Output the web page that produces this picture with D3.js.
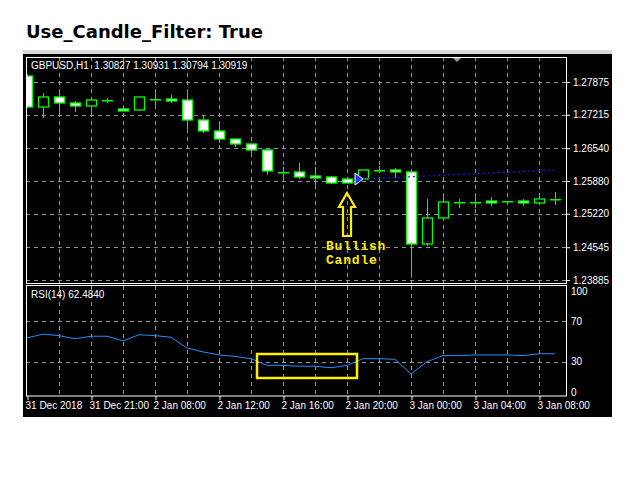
<!DOCTYPE html>
<html>
<head>
<meta charset="utf-8">
<style>
  body { margin: 0; background: #fff; }
  svg text { font-family: "Liberation Sans", Arial, sans-serif; white-space: pre; }
</style>
<script src="https://d3js.org/d3.v7.min.js"></script>
</head>
<body>
<svg id="chart" width="640" height="480"></svg>
<script>
// candle data, oldest first
const opens  = [1.27996,1.27371,1.27573,1.27452,1.27391,1.27512,1.27331,1.27311,1.27532,1.27532,1.27512,1.27109,1.26888,1.26726,1.26626,1.26505,1.26062,1.26062,1.25981,1.25961,1.25920,1.25920,1.26102,1.26102,1.26062,1.24611,1.25135,1.25457,1.25457,1.25477,1.25477,1.25477,1.25437,1.25518];
const highs  = [1.28036,1.27653,1.27653,1.27492,1.27573,1.27553,1.27331,1.27573,1.27733,1.27613,1.27653,1.27190,1.27029,1.26726,1.26626,1.26545,1.26162,1.26243,1.26162,1.25981,1.25920,1.26102,1.26182,1.26142,1.26062,1.25518,1.25598,1.25518,1.25598,1.25558,1.25477,1.25518,1.25558,1.25659];
const lows   = [1.27351,1.27150,1.27250,1.27271,1.27250,1.27452,1.27291,1.27311,1.27371,1.27452,1.26908,1.26847,1.26646,1.26565,1.26384,1.26001,1.25920,1.25920,1.25759,1.25820,1.25840,1.25920,1.26041,1.25941,1.23926,1.24570,1.25135,1.25336,1.25336,1.25377,1.25397,1.25377,1.25397,1.25397];
const closes = [1.27371,1.27573,1.27452,1.27391,1.27512,1.27512,1.27291,1.27573,1.27532,1.27492,1.27109,1.26888,1.26726,1.26626,1.26505,1.26082,1.26062,1.25961,1.25941,1.25840,1.25840,1.26102,1.26102,1.26062,1.24611,1.25135,1.25457,1.25457,1.25457,1.25437,1.25477,1.25437,1.25518,1.25518];
const rsi = [53.6,57.3,55.8,52.7,55.2,55.2,50.6,56.7,55.8,54.2,43.6,39.7,36.7,35.2,33.0,26.4,26.4,25.5,25.5,24.0,26.4,33.0,33.0,32.4,17.9,30.0,36.0,36.0,36.7,36.7,36.7,36.0,37.9,37.9];
const priceTicks = [1.27875,1.27215,1.26540,1.25880,1.25220,1.24545,1.23885];
const rsiTicks = [100,70,30,0];
const timeTickIdx = [0,4,8,12,16,20,24,28,32];
const timeLabels = ["31 Dec 2018","31 Dec 21:00","2 Jan 08:00","2 Jan 12:00","2 Jan 16:00","2 Jan 20:00","3 Jan 00:00","3 Jan 04:00","3 Jan 08:00"];
const levelTrail = [[21,1.25920],[33,1.26102]]; // blue dotted projection line
const GREEN = "#00ff00", GRID = "#8a95a0";

const svg = d3.select("#chart");
svg.append("text").attr("x", 26).attr("y", 38)
  .style("font-family", "'DejaVu Sans', sans-serif")
  .attr("font-size", 18).attr("font-weight", "bold").text("Use_Candle_Filter: True");

svg.append("rect").attr("x", 23).attr("y", 50).attr("width", 589).attr("height", 5).attr("fill", "#d8d8d8");
svg.append("rect").attr("x", 23).attr("y", 54).attr("width", 589).attr("height", 363).attr("fill", "#000");

const left = 26, right = 567;
const x = d3.scaleLinear().domain([0, 33]).range([27, 555]);
const y = d3.scaleLinear().domain([1.23885, 1.27875]).range([280, 82]);
const yr = d3.scaleLinear().domain([0, 100]).range([392, 291]);

svg.append("clipPath").attr("id", "mainClip").append("rect")
  .attr("x", left).attr("y", 57).attr("width", right - left).attr("height", 226);

const main = svg.append("g").attr("clip-path", "url(#mainClip)");
const dash = "4,4";
main.selectAll(".hg").data(priceTicks).join("line")
  .attr("x1", left).attr("x2", right).attr("y1", d => Math.round(y(d)) + 0.5).attr("y2", d => Math.round(y(d)) + 0.5)
  .attr("stroke", GRID).attr("stroke-dasharray", dash);
const vgrid = d3.range(2, 33, 2);
main.selectAll(".vg").data(vgrid).join("line")
  .attr("x1", d => x(d) + 0.5).attr("x2", d => x(d) + 0.5).attr("y1", 57).attr("y2", 283)
  .attr("stroke", GRID).attr("stroke-dasharray", dash);

// candles
const idx = d3.range(opens.length);
main.selectAll(".wick").data(idx).join("line")
  .attr("x1", i => x(i) + 0.5).attr("x2", i => x(i) + 0.5)
  .attr("y1", i => y(highs[i])).attr("y2", i => y(lows[i]))
  .attr("stroke", GREEN);
main.selectAll(".body").data(idx).join("rect")
  .each(function(i) {
    const top = y(Math.max(opens[i], closes[i])), bot = y(Math.min(opens[i], closes[i]));
    const s = d3.select(this);
    if (bot - top < 1.5) {
      s.attr("x", x(i) - 5).attr("y", Math.round(top)).attr("width", 11).attr("height", 1.5).attr("fill", GREEN);
    } else {
      s.attr("x", x(i) - 4.5).attr("y", top).attr("width", 10).attr("height", bot - top)
        .attr("fill", closes[i] < opens[i] ? "#fff" : "#000").attr("stroke", GREEN).attr("stroke-width", 1.3);
    }
  });

// blue dotted projection
main.append("path").datum(levelTrail)
  .attr("d", d3.line().x(d => x(d[0])).y(d => y(d[1])))
  .attr("stroke", "#1a1aff").attr("stroke-width", 1.2).attr("stroke-dasharray", "2,3").attr("fill", "none");
const ax = x(levelTrail[0][0]) - 4, ay = y(levelTrail[0][1]);
main.append("path").attr("d", `M${ax-4},${ay-6}L${ax+4},${ay}L${ax-4},${ay+6}Z`)
  .attr("fill", "#2233ff").attr("stroke", "#fff").attr("stroke-width", 1);

// yellow arrow annotation
const bx = x(20), by = y(lows[20]) + 10;
main.append("path")
  .attr("d", `M${bx},${by}L${bx+8},${by+14}L${bx+4},${by+14}L${bx+4},${by+43}L${bx-4},${by+43}L${bx-4},${by+14}L${bx-8},${by+14}Z`)
  .attr("fill", "none").attr("stroke", "#ffee00").attr("stroke-width", 2.2);
["Bullish", "Candle"].forEach((t, k) => {
  main.append("text").attr("x", bx - 21).attr("y", by + 57 + k * 14)
    .style("font-family", "'Liberation Mono', 'DejaVu Sans Mono', monospace")
    .attr("font-size", 13).attr("font-weight", "bold").attr("letter-spacing", 0.8)
    .attr("fill", "#ffee00").text(t);
});

main.append("text").attr("x", 31).attr("y", 69).attr("fill", "#fff").attr("font-size", 10)
  .text("GBPUSD,H1  1.30827 1.30931 1.30794 1.30919");
svg.append("path").attr("d", "M452,57L462,57L457,62Z").attr("fill", "#9aa0a8");

svg.append("rect").attr("x", left + 0.5).attr("y", 57.5).attr("width", right - left - 1).attr("height", 226)
  .attr("fill", "none").attr("stroke", "#fff");

// price axis
const pAxis = svg.append("g").attr("transform", `translate(${right},0)`)
  .call(d3.axisRight(y).tickValues(priceTicks).tickFormat(d3.format(".5f")).tickSize(3).tickPadding(3));
pAxis.select(".domain").remove();
pAxis.selectAll("line").attr("stroke", "#fff");
pAxis.selectAll("text").attr("fill", "#fff").attr("font-size", 10).style("font-family", "'Liberation Sans', Arial, sans-serif");

// RSI panel
const rp = svg.append("g");
rp.selectAll(".rg").data([70, 30]).join("line")
  .attr("x1", left).attr("x2", right).attr("y1", d => Math.round(yr(d)) + 0.5).attr("y2", d => Math.round(yr(d)) + 0.5)
  .attr("stroke", GRID).attr("stroke-dasharray", dash);
rp.selectAll(".rv").data(vgrid).join("line")
  .attr("x1", d => x(d) + 0.5).attr("x2", d => x(d) + 0.5).attr("y1", 286).attr("y2", 396)
  .attr("stroke", GRID).attr("stroke-dasharray", dash);
rp.append("path").datum(rsi)
  .attr("d", d3.line().x((d, i) => x(i)).y(d => yr(d)))
  .attr("fill", "none").attr("stroke", "#1e90ff").attr("stroke-width", 1);
rp.append("rect").attr("x", 257).attr("y", 354).attr("width", 100).attr("height", 24)
  .attr("fill", "none").attr("stroke", "#ffee00").attr("stroke-width", 2.5);
rp.append("text").attr("x", 31).attr("y", 298).attr("fill", "#fff").attr("font-size", 10).text("RSI(14) 62.4840");
rp.append("rect").attr("x", left + 0.5).attr("y", 285.5).attr("width", right - left - 1).attr("height", 110.5)
  .attr("fill", "none").attr("stroke", "#fff");
const rAxis = rp.append("g").attr("transform", `translate(${right},0)`)
  .call(d3.axisRight(yr).tickValues(rsiTicks).tickSize(0).tickPadding(4));
rAxis.select(".domain").remove();
rAxis.selectAll("text").attr("fill", "#fff").attr("font-size", 10).style("font-family", "'Liberation Sans', Arial, sans-serif");

// time axis
const tAxis = svg.append("g").attr("transform", "translate(0,396)")
  .call(d3.axisBottom(x).tickValues(timeTickIdx).tickFormat((d, i) => timeLabels[i]).tickSize(4).tickPadding(2));
tAxis.select(".domain").remove();
tAxis.selectAll("line").attr("stroke", "#fff").attr("transform", "translate(0.5,0)");
tAxis.selectAll("text").attr("fill", "#fff").attr("font-size", 10).attr("text-anchor", "start").attr("dx", -2)
  .style("font-family", "'Liberation Sans', Arial, sans-serif");
</script>
</body>
</html>
